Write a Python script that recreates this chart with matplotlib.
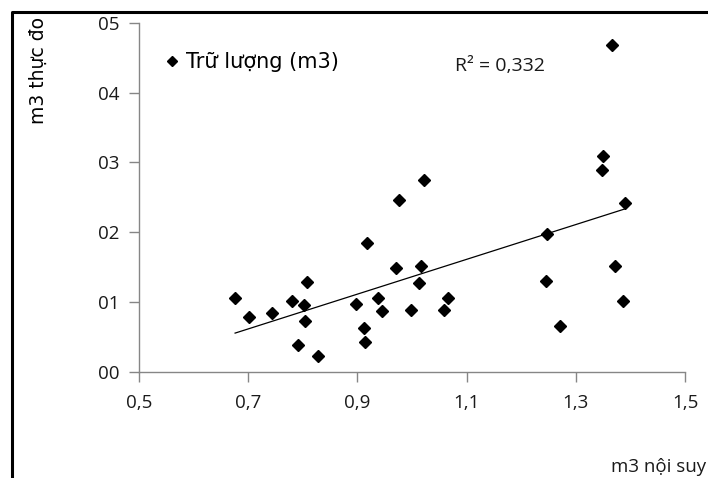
import matplotlib
matplotlib.use("Agg")
import matplotlib.pyplot as plt
import numpy as np
from matplotlib.lines import Line2D

# Data
x_interp = [0.676, 0.701, 0.744, 0.780, 0.802, 0.808, 0.804, 0.791, 0.828, 0.897,
            0.912, 0.914, 0.917, 0.938, 0.945, 0.976, 0.971, 1.022, 1.016, 1.013,
            0.998, 1.058, 1.066, 1.366, 1.350, 1.348, 1.390, 1.247, 1.245, 1.371,
            1.387, 1.271]
y_measured = [0.106, 0.078, 0.084, 0.101, 0.096, 0.129, 0.073, 0.038, 0.023, 0.097,
              0.062, 0.042, 0.185, 0.106, 0.087, 0.246, 0.148, 0.274, 0.151, 0.127,
              0.089, 0.089, 0.106, 0.468, 0.309, 0.289, 0.242, 0.197, 0.130, 0.152,
              0.102, 0.065]
x_ticks = [0.5, 0.7, 0.9, 1.1, 1.3, 1.5]
x_tick_labels = ["0,5", "0,7", "0,9", "1,1", "1,3", "1,5"]
y_ticks = [0.0, 0.1, 0.2, 0.3, 0.4, 0.5]
y_tick_labels = ["00", "01", "02", "03", "04", "05"]
series_name = "Trữ lượng (m3)"
r2_label = "R² = 0,332"
x_label = "m3 nội suy"
y_label = "m3 thực đo"

W, H = 708, 478
fig = plt.figure(figsize=(W / 100, H / 100), dpi=100)
ax = fig.add_axes([139 / W, 1 - 371.7 / H, (685 - 139) / W, (371.7 - 22.7) / H])

gray = "#868686"
txt = "#1a1a1a"
ax.plot(x_interp, y_measured, linestyle="none", marker="D", markersize=6.3,
        color="black", label=series_name, zorder=3)

# linear trend line
xa = np.array(x_interp)
ya = np.array(y_measured)
k, b = np.polyfit(xa, ya, 1)
xs = np.array([xa.min(), xa.max()])
ax.plot(xs, k * xs + b, color="black", linewidth=0.9, zorder=2)

ax.set_xlim(0.5, 1.5)
ax.set_ylim(0.0, 0.5)
ax.set_xticks(x_ticks)
ax.set_xticklabels(x_tick_labels, fontfamily="Open Sans", fontsize=13.5)
ax.set_yticks(y_ticks)
ax.set_yticklabels(y_tick_labels, fontfamily="Open Sans", fontsize=13.5)
for s in ["top", "right"]:
    ax.spines[s].set_visible(False)
for s in ["left", "bottom"]:
    ax.spines[s].set_color(gray)
    ax.spines[s].set_linewidth(1.0)
ax.tick_params(axis="both", colors=gray, labelcolor=txt, length=7, width=1.0)
ax.tick_params(axis="x", pad=9)
ax.tick_params(axis="y", pad=7)

ax.text(455 / W, 1 - 66 / H, r2_label, transform=fig.transFigure,
        fontfamily="Open Sans", fontsize=14, color=txt, va="center", ha="left")

leg = ax.legend(loc="center left", bbox_to_anchor=(167 / W, 1 - 62 / H),
                bbox_transform=fig.transFigure, frameon=False,
                prop={"family": "DejaVu Sans", "size": 15},
                handlelength=0.5, handletextpad=0.4, markerscale=0.75,
                borderpad=0, borderaxespad=0)

fig.text(38 / W, 1 - 17 / H, y_label, rotation=90, ha="center", va="top",
         fontfamily="DejaVu Sans", fontsize=13.5, color="black")
fig.text(706 / W, 1 - 467 / H, x_label, ha="right", va="center",
         fontfamily="Open Sans", fontsize=13.5, color=txt)

# outer frame (cropped at right and bottom)
fig.add_artist(Line2D([12 / W, 12 / W, 1.0], [0.0, 1 - 12 / H, 1 - 12 / H],
                      transform=fig.transFigure, color="black", linewidth=2.2))

fig.savefig("out.png", dpi=100)
